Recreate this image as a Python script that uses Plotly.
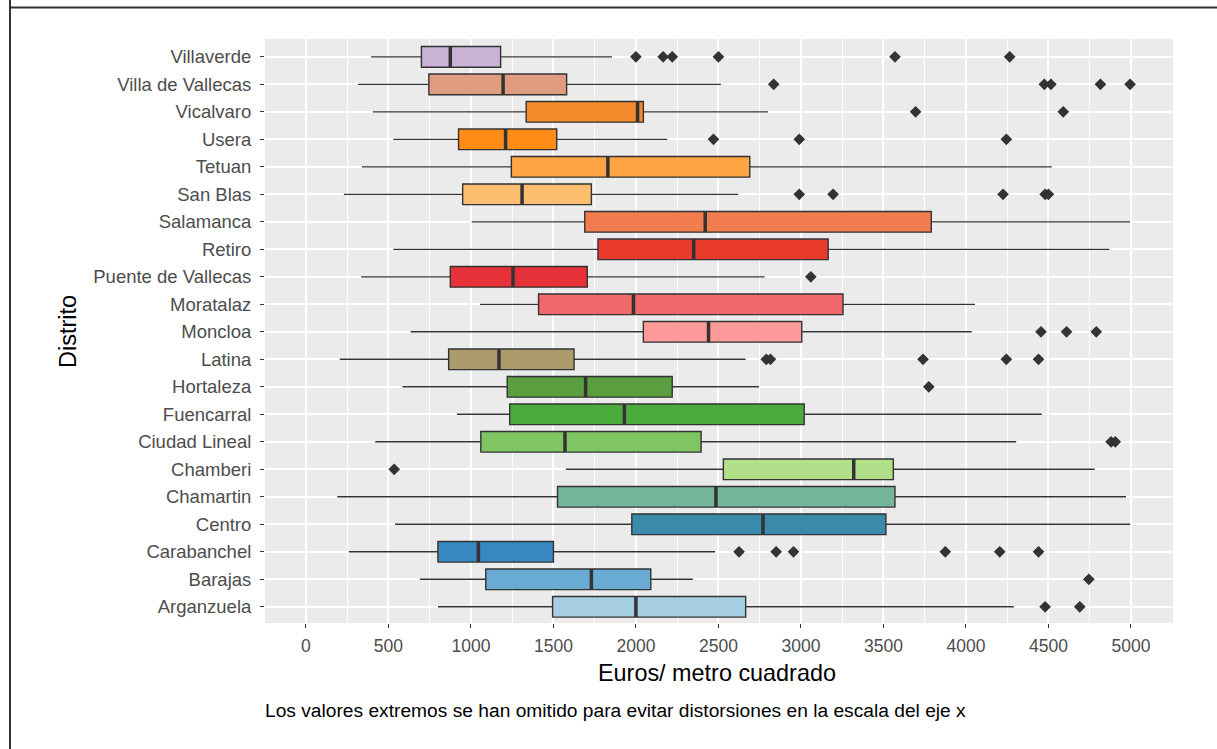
import plotly.graph_objects as go

# ---------------- data ----------------
districts = ["Arganzuela", "Barajas", "Carabanchel", "Centro", "Chamartin", "Chamberi",
             "Ciudad Lineal", "Fuencarral", "Hortaleza", "Latina", "Moncloa", "Moratalaz",
             "Puente de Vallecas", "Retiro", "Salamanca", "San Blas", "Tetuan", "Usera",
             "Vicalvaro", "Villa de Vallecas", "Villaverde"]
lower_whisker = [800, 690, 260, 540, 190, 1575, 420, 915, 585, 205, 635, 1055,
                 335, 530, 1005, 230, 340, 530, 405, 315, 395]
q1_values = [1495, 1090, 800, 1975, 1525, 2530, 1060, 1235, 1220, 865, 2045, 1410,
             875, 1770, 1690, 950, 1245, 925, 1335, 745, 700]
medians = [2000, 1730, 1045, 2770, 2485, 3320, 1570, 1930, 1695, 1170, 2440, 1985,
           1255, 2350, 2420, 1310, 1830, 1210, 2010, 1195, 875]
q3_values = [2665, 2090, 1500, 3515, 3570, 3560, 2395, 3020, 2220, 1625, 3005, 3255,
             1705, 3165, 3790, 1730, 2690, 1520, 2045, 1580, 1180]
upper_whisker = [4290, 2345, 2480, 4995, 4970, 4780, 4305, 4460, 2745, 2665, 4035, 4055,
                 2780, 4870, 4995, 2620, 4520, 2190, 2800, 2515, 1855]
outliers = [
    [4480, 4690],                          # Arganzuela
    [4745],                                # Barajas
    [2625, 2850, 2955, 3875, 4205, 4440],  # Carabanchel
    [],                                    # Centro
    [],                                    # Chamartin
    [535],                                 # Chamberi
    [4880, 4905],                          # Ciudad Lineal
    [],                                    # Fuencarral
    [3775],                                # Hortaleza
    [2790, 2815, 3740, 4245, 4440],        # Latina
    [4455, 4610, 4790],                    # Moncloa
    [],                                    # Moratalaz
    [3060],                                # Puente de Vallecas
    [],                                    # Retiro
    [],                                    # Salamanca
    [2990, 3195, 4225, 4480, 4500],        # San Blas
    [],                                    # Tetuan
    [2470, 2990, 4245],                    # Usera
    [3695, 4590],                          # Vicalvaro
    [2835, 4475, 4515, 4815, 4995],        # Villa de Vallecas
    [2000, 2165, 2220, 2500, 3570, 4265],  # Villaverde
]
colors = ["#a6cee3", "#6aabd3", "#3787c0", "#3a8bab", "#74b69a", "#b2df8a",
          "#80c564", "#4cab3d", "#5a9e40", "#ad9c6b", "#fb9a99", "#f2676a",
          "#e53137", "#e93b2a", "#f17d4e", "#fdbf6f", "#fda542", "#fe8c17",
          "#f38a2c", "#e19b80", "#cab2d6"]
x_ticks = [0, 500, 1000, 1500, 2000, 2500, 3000, 3500, 4000, 4500, 5000]

x_title = "Euros/ metro cuadrado"
y_title = "Distrito"
caption = "Los valores extremos se han omitido para evitar distorsiones en la escala del eje x"

# ---------------- figure ----------------
W, H = 1217, 749
ML, MR, MT, MB = 265, 44, 39, 126
PW, PH = W - ML - MR, H - MT - MB
FONT = "Liberation Sans, Arial, sans-serif"
DARK = "#333333"
BOXW = 0.75

fig = go.Figure()
positions = list(range(len(districts)))

for i, name in enumerate(districts):
    fig.add_trace(go.Box(
        y=[i], q1=[q1_values[i]], median=[medians[i]], q3=[q3_values[i]],
        lowerfence=[lower_whisker[i]], upperfence=[upper_whisker[i]],
        orientation="h", width=BOXW, whiskerwidth=0,
        fillcolor=colors[i], line=dict(color=DARK, width=1.4),
        boxpoints=False, name=name, showlegend=False, hoverinfo="skip"))

# thicker median bars (ggplot style)
mx, my = [], []
for i in positions:
    mx += [medians[i], medians[i], None]
    my += [i - BOXW / 2, i + BOXW / 2, None]
fig.add_trace(go.Scatter(x=mx, y=my, mode="lines", line=dict(color=DARK, width=3.5),
                         showlegend=False, hoverinfo="skip"))

# outliers
ox, oy = [], []
for i in positions:
    for v in outliers[i]:
        ox.append(v)
        oy.append(i)
fig.add_trace(go.Scatter(x=ox, y=oy, mode="markers",
                         marker=dict(symbol="diamond", size=9, color=DARK),
                         showlegend=False, hoverinfo="skip"))

fig.update_layout(
    width=W, height=H,
    margin=dict(l=ML, r=MR, t=MT, b=MB, autoexpand=False),
    paper_bgcolor="white", plot_bgcolor="#EBEBEB",
    boxmode="overlay", showlegend=False,
    font=dict(family=FONT, color="#4D4D4D", size=18),
    xaxis=dict(range=[-248, 5255], tickvals=x_ticks, ticktext=[str(t) for t in x_ticks],
               showgrid=True, gridcolor="white", gridwidth=1.5,
               minor=dict(dtick=250, tick0=0, showgrid=True, gridcolor="white",
                          gridwidth=0.8, ticks=""),
               zeroline=False, showline=False,
               ticks="outside", ticklen=4, tickwidth=1, tickcolor=DARK,
               ticklabelstandoff=3,
               tickfont=dict(size=17.5, color="#4D4D4D"), fixedrange=True),
    yaxis=dict(range=[-0.59, 20.65], tickvals=positions, ticktext=districts,
               showgrid=True, gridcolor="white", gridwidth=1.5,
               zeroline=False, showline=False,
               ticks="outside", ticklen=4, tickwidth=1, tickcolor=DARK,
               ticklabelstandoff=5,
               tickfont=dict(size=18.5, color="#4D4D4D"), fixedrange=True),
)

def px_x(p):
    return (p - ML) / PW

def px_y(p):
    return (H - MB - p) / PH

fig.add_annotation(text=x_title, xref="paper", yref="paper",
                   x=px_x(717), y=px_y(673), showarrow=False,
                   font=dict(size=23.4, color="black", family=FONT),
                   xanchor="center", yanchor="middle")
fig.add_annotation(text=y_title, xref="paper", yref="paper",
                   x=px_x(68), y=px_y(332), showarrow=False, textangle=-90,
                   font=dict(size=23.5, color="black", family=FONT),
                   xanchor="center", yanchor="middle")
fig.add_annotation(text=caption, xref="paper", yref="paper",
                   x=px_x(263), y=px_y(710), showarrow=False,
                   font=dict(size=19.2, color="black", family=FONT),
                   xanchor="left", yanchor="middle")

# outer frame lines of the original screenshot
fig.add_shape(type="line", xref="paper", yref="paper",
              x0=px_x(10), x1=px_x(W), y0=px_y(7.5), y1=px_y(7.5),
              line=dict(color=DARK, width=2))
fig.add_shape(type="line", xref="paper", yref="paper",
              x0=px_x(10), x1=px_x(10), y0=px_y(0), y1=px_y(H),
              line=dict(color=DARK, width=2))

fig.write_html("out.html", config={"displayModeBar": False},
               post_script="document.body.style.margin='0';document.body.style.overflow='hidden';")
